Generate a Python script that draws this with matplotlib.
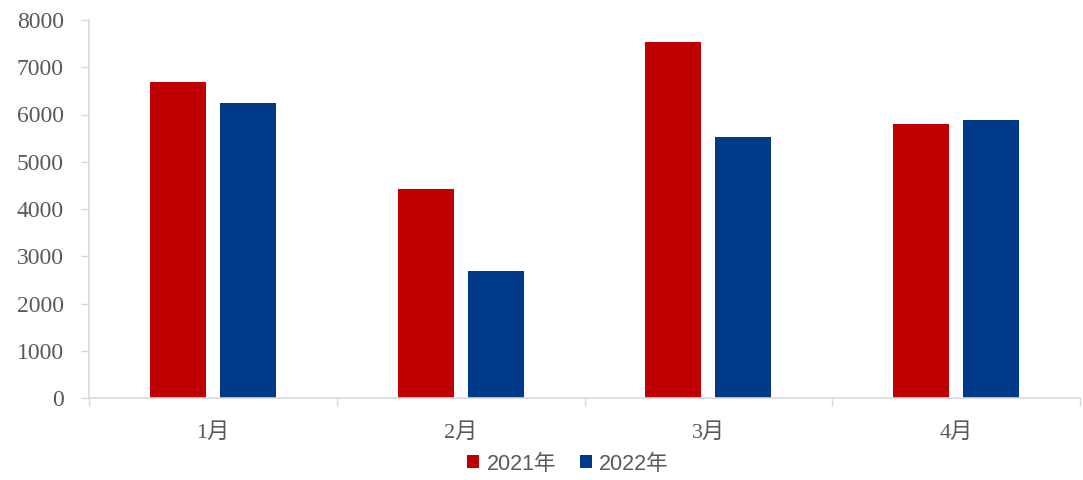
import matplotlib
matplotlib.use("Agg")
import matplotlib.pyplot as plt
import numpy as np

categories = ["1月", "2月", "3月", "4月"]
series_names = ["2021年", "2022年"]
values_2021 = [6690, 4420, 7530, 5800]
values_2022 = [6240, 2690, 5520, 5880]
colors = ["#C00000", "#003A88"]

plt.rcParams['font.family'] = ['Liberation Serif', 'Noto Sans CJK SC']

fig = plt.figure(figsize=(10.83, 4.8), dpi=100)
ax = fig.add_axes([89/1083, 1-398/480, (1080-89)/1083, (398-20)/480])

x = np.arange(len(categories))
w = 0.226
off = 0.141
ax.bar(x - off, values_2021, width=w, color=colors[0], label=series_names[0])
ax.bar(x + off, values_2022, width=w, color=colors[1], label=series_names[1])

ax.set_xlim(-0.5, len(categories) - 0.5)
ax.set_ylim(0, 8000)
ax.set_yticks(np.arange(0, 8001, 1000))
ax.set_xticks(x)
ax.set_xticklabels(categories)
ax.set_xticks(np.arange(-0.5, len(categories), 1.0), minor=True)
ax.tick_params(axis='x', which='major', length=0, pad=18, labelsize=16, labelcolor='#595959')
ax.tick_params(axis='x', which='minor', length=6, color='#D9D9D9', width=1)
ax.tick_params(axis='y', length=6, color='#D9D9D9', width=1, labelsize=17, labelcolor='#595959', pad=12)

for s in ['top', 'right']:
    ax.spines[s].set_visible(False)
for s in ['left', 'bottom']:
    ax.spines[s].set_color('#D9D9D9')
    ax.spines[s].set_linewidth(1.2)

leg = fig.legend(loc='center', bbox_to_anchor=(568/1083, 1-464/480), ncol=2, frameon=False,
                 handlelength=0.55, handleheight=0.55, handletextpad=0.35, columnspacing=1.1,
                 prop={'family': ['Liberation Sans', 'Noto Sans CJK SC'], 'size': 15.5})
for t in leg.get_texts():
    t.set_color('#595959')

fig.savefig("out.png", dpi=100)
